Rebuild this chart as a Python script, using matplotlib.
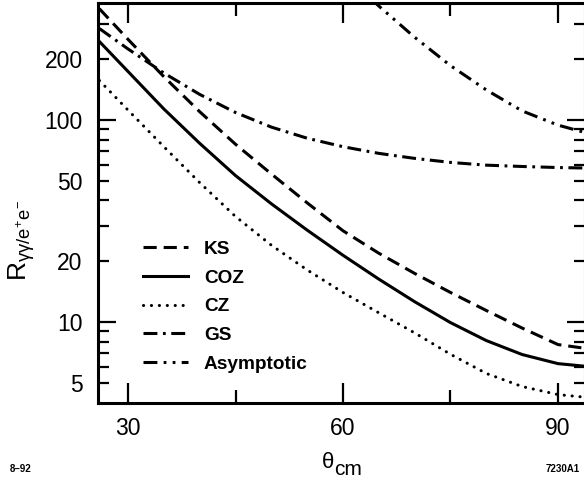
#!/usr/bin/env python

import numpy as np
import matplotlib
matplotlib.use('Agg')
import matplotlib.pyplot as plt
from matplotlib.ticker import FixedLocator, FuncFormatter, NullFormatter

plt.rcParams['font.family'] = ['Liberation Sans', 'DejaVu Sans']
plt.rcParams['mathtext.fontset'] = 'custom'
plt.rcParams['mathtext.rm'] = 'Liberation Sans'
plt.rcParams['mathtext.it'] = 'Liberation Sans'
plt.rcParams['lines.scale_dashes'] = False

theta = [26, 30, 35, 40, 45, 50, 55, 60, 65, 70, 75, 80, 85, 90, 93.5]

ks = [356, 251, 164, 110, 75.9, 54.1, 38.9, 28.3, 21.9, 17.4, 14.0, 11.4, 9.33, 7.73, 7.43]
coz = [245, 174, 113.5, 76.7, 53.1, 38.5, 28.5, 21.4, 16.3, 12.6, 9.93, 8.09, 6.90, 6.22, 6.05]
cz = [157, 112, 73.8, 49.0, 33.3, 24.0, 18.1, 14.0, 11.1, 8.83, 6.92, 5.56, 4.79, 4.37, 4.25]
gs = [284, 225, 171, 134, 109, 92.3, 81.3, 73.8, 68.4, 64.6, 61.7, 59.8, 58.9, 58.2, 57.9]

theta_asym = [62, 65, 70, 75, 80, 85, 90, 93.5]
asym = [459, 367, 257, 186, 141, 111, 94.4, 87.3]

x_major = [30, 60, 90]
x_minor = [45, 75]
y_major = [10, 100]
y_minor = [5, 6, 7, 8, 9, 20, 30, 40, 50, 60, 70, 80, 90, 200, 300]
y_labeled = [5, 20, 50, 200]

fig = plt.figure(figsize=(5.84, 4.82), dpi=100)
ax = fig.add_axes([98 / 584, 1 - 403 / 482, 487 / 584, 400 / 482])

lw = 2.2
ax.plot(theta, ks, color='k', lw=lw, dashes=(9.5, 5), label='KS')
ax.plot(theta, coz, color='k', lw=lw, label='COZ')
ax.plot(theta, cz, color='k', lw=lw, dashes=(0.1, 5.6), dash_capstyle='round', label='CZ')
ax.plot(theta, gs, color='k', lw=lw, dashes=(10, 4, 2, 4), label='GS')
ax.plot(theta_asym, asym, color='k', lw=lw, dashes=(10, 4.5, 2, 4.5, 2, 4.5), label='Asymptotic')

ax.set_yscale('log')
ax.set_xlim(25.81, 93.77)
ax.set_ylim(3.97, 380)

ax.xaxis.set_major_locator(FixedLocator(x_major))
ax.xaxis.set_minor_locator(FixedLocator(x_minor))
ax.xaxis.set_minor_formatter(NullFormatter())
ax.yaxis.set_major_locator(FixedLocator(y_major))
ax.yaxis.set_minor_locator(FixedLocator(y_minor))
ax.yaxis.set_major_formatter(FuncFormatter(lambda v, p: '%g' % v))
ax.yaxis.set_minor_formatter(FuncFormatter(lambda v, p: '%g' % v if v in y_labeled else ''))

for s in ax.spines.values():
    s.set_linewidth(2.2)

ax.tick_params(axis='both', which='both', direction='in', top=True, right=True,
               width=1.6, labelsize=16.5, colors='k')
ax.tick_params(axis='x', which='major', length=14.5, pad=10)
ax.tick_params(axis='x', which='minor', length=9.5, pad=10)
ax.tick_params(axis='y', which='major', length=13, pad=11)
ax.tick_params(axis='y', which='minor', length=8, pad=11)

leg = ax.legend(loc='upper left', bbox_to_anchor=(0.0924, 0.406), frameon=False,
                borderpad=0, borderaxespad=0, handlelength=2.35, handletextpad=0.85,
                labelspacing=0.6, prop={'weight': 'bold', 'size': 13.7})

# axis titles
fig.text(22 / 584, 1 - 240 / 482, r'$R_{\gamma\gamma/e^{+}e^{-}}$', rotation=90,
         ha='center', va='center', fontsize=19)
fig.text(322 / 584, 1 - 468 / 482, 'θ', fontsize=16, ha='left', va='baseline')
fig.text(334 / 584, 1 - 475 / 482, 'cm', fontsize=15, ha='left', va='baseline')

# corner ids
fig.text(10 / 584, 1 - 472 / 482, '8–92', fontsize=7, weight='bold', ha='left', va='baseline')
fig.text(580 / 584, 1 - 472 / 482, '7230A1', fontsize=7, weight='bold', ha='right', va='baseline')

plt.savefig('out.png', dpi=100)
